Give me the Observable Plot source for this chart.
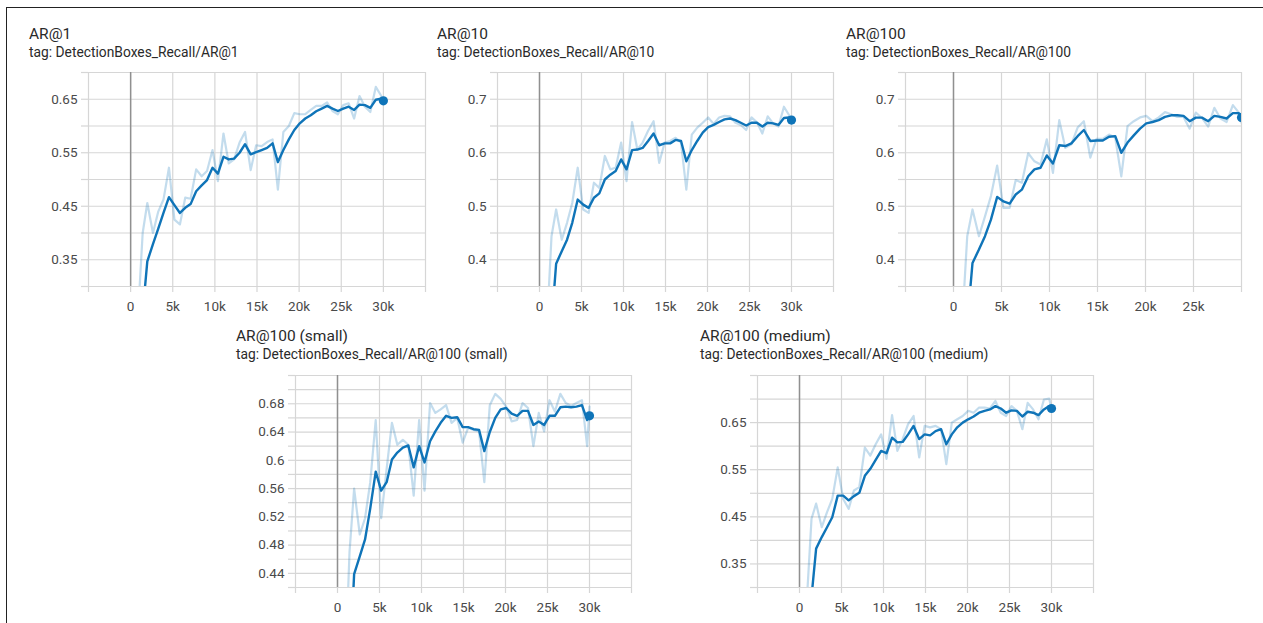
<!DOCTYPE html>
<html><head><meta charset="utf-8">
<script src="https://cdn.jsdelivr.net/npm/d3@7"></script>
<script src="https://cdn.jsdelivr.net/npm/@observablehq/plot@0.6"></script>
<style>
html,body{margin:0;padding:0;background:#fff;}
#page{position:relative;width:1263px;height:623px;overflow:hidden;font-family:Roboto,sans-serif;}
#frame{position:absolute;left:6px;top:6.5px;width:1256px;height:640px;border-top:1.6px solid #222;border-left:1.6px solid #222;}
.ptitle{position:absolute;font-size:15.5px;font-weight:400;color:#2a2a2a;white-space:nowrap;line-height:1;}
.psub{position:absolute;font-size:13.8px;font-weight:400;color:#2a2a2a;white-space:nowrap;line-height:1;}
.chart{position:absolute;}
</style></head>
<body><div id="page"><div id="frame"></div></div>
<script>
// ---- data ----
const steps = [0, 1430, 1980, 2650, 3280, 3900, 4550, 5200, 5850, 6480, 7120, 7780, 8430, 9070, 9720, 10360, 11020, 11650, 12280, 12930, 13580, 14250, 14900, 15550, 16200, 16850, 17480, 18130, 18780, 19430, 20080, 20730, 21380, 22030, 22680, 23320, 23960, 24600, 25240, 25880, 26530, 27170, 27810, 28450, 29100, 29720, 30000];

const ar1Raw = [0, 0.40, 0.456, 0.40, 0.44, 0.4625, 0.522, 0.425, 0.416, 0.466, 0.464, 0.519, 0.506, 0.516, 0.555, 0.497, 0.586, 0.53, 0.5375, 0.569, 0.589, 0.5175, 0.564, 0.5625, 0.57, 0.575, 0.481, 0.589, 0.60, 0.624, 0.622, 0.622, 0.63, 0.6375, 0.6375, 0.644, 0.628, 0.622, 0.639, 0.6425, 0.614, 0.656, 0.636, 0.626, 0.673, 0.657, 0.645];
const ar1Smooth = [0, 0.25, 0.347, 0.379, 0.408, 0.4375, 0.467, 0.452, 0.4375, 0.447, 0.454, 0.478, 0.489, 0.499, 0.522, 0.511, 0.5425, 0.5375, 0.539, 0.55, 0.566, 0.547, 0.551, 0.555, 0.559, 0.5675, 0.5325, 0.555, 0.575, 0.5925, 0.605, 0.614, 0.62, 0.6275, 0.6325, 0.6375, 0.6325, 0.628, 0.6325, 0.636, 0.63, 0.64, 0.639, 0.634, 0.649, 0.651, 0.647];

const ar10Raw = [0, 0.444, 0.494, 0.4375, 0.469, 0.506, 0.572, 0.494, 0.4875, 0.544, 0.534, 0.594, 0.569, 0.572, 0.619, 0.547, 0.6575, 0.606, 0.619, 0.641, 0.659, 0.581, 0.619, 0.622, 0.628, 0.619, 0.531, 0.634, 0.647, 0.656, 0.666, 0.654, 0.666, 0.669, 0.668, 0.656, 0.652, 0.6425, 0.666, 0.657, 0.636, 0.668, 0.655, 0.649, 0.686, 0.67, 0.658];
const ar10Smooth = [0, 0.28, 0.3925, 0.416, 0.4375, 0.469, 0.5125, 0.503, 0.497, 0.516, 0.524, 0.55, 0.559, 0.566, 0.5875, 0.569, 0.605, 0.606, 0.609, 0.622, 0.636, 0.614, 0.6175, 0.6175, 0.624, 0.622, 0.584, 0.605, 0.622, 0.6375, 0.648, 0.652, 0.6575, 0.6625, 0.664, 0.661, 0.656, 0.651, 0.656, 0.656, 0.649, 0.656, 0.655, 0.652, 0.665, 0.666, 0.661];

const ar100Raw = [0, 0.444, 0.494, 0.444, 0.481, 0.519, 0.576, 0.497, 0.497, 0.549, 0.544, 0.599, 0.584, 0.578, 0.625, 0.5625, 0.661, 0.609, 0.616, 0.647, 0.659, 0.591, 0.626, 0.626, 0.634, 0.628, 0.556, 0.65, 0.659, 0.666, 0.669, 0.659, 0.666, 0.676, 0.672, 0.667, 0.667, 0.645, 0.675, 0.665, 0.649, 0.684, 0.664, 0.6575, 0.689, 0.675, 0.656];
const ar100Smooth = [0, 0.28, 0.394, 0.419, 0.444, 0.475, 0.5175, 0.509, 0.505, 0.522, 0.531, 0.556, 0.569, 0.572, 0.595, 0.58, 0.614, 0.6125, 0.6175, 0.631, 0.6425, 0.622, 0.623, 0.623, 0.63, 0.631, 0.60, 0.619, 0.6325, 0.645, 0.655, 0.6575, 0.661, 0.667, 0.67, 0.67, 0.669, 0.659, 0.6656, 0.6656, 0.659, 0.669, 0.667, 0.664, 0.674, 0.674, 0.666];

const arSmallRaw = [0, 0.47, 0.56, 0.495, 0.518, 0.569, 0.657, 0.518, 0.588, 0.653, 0.622, 0.629, 0.622, 0.55, 0.657, 0.557, 0.681, 0.667, 0.672, 0.678, 0.653, 0.66, 0.625, 0.646, 0.643, 0.641, 0.569, 0.678, 0.694, 0.687, 0.676, 0.655, 0.657, 0.681, 0.674, 0.62, 0.667, 0.641, 0.685, 0.669, 0.694, 0.681, 0.677, 0.681, 0.685, 0.62, 0.676];
const arSmallSmooth = [0, 0.30, 0.439, 0.464, 0.488, 0.532, 0.584, 0.557, 0.569, 0.601, 0.611, 0.618, 0.621, 0.59, 0.62, 0.597, 0.627, 0.641, 0.653, 0.663, 0.66, 0.661, 0.647, 0.647, 0.644, 0.643, 0.613, 0.64, 0.66, 0.672, 0.674, 0.666, 0.663, 0.67, 0.67, 0.65, 0.655, 0.65, 0.663, 0.663, 0.675, 0.676, 0.675, 0.676, 0.678, 0.657, 0.663];

const arMedRaw = [0, 0.446, 0.478, 0.428, 0.46, 0.488, 0.555, 0.488, 0.467, 0.506, 0.513, 0.597, 0.58, 0.604, 0.625, 0.573, 0.666, 0.59, 0.615, 0.647, 0.664, 0.576, 0.643, 0.64, 0.643, 0.636, 0.562, 0.65, 0.657, 0.664, 0.675, 0.671, 0.682, 0.682, 0.68, 0.696, 0.671, 0.664, 0.685, 0.675, 0.636, 0.692, 0.678, 0.657, 0.699, 0.701, 0.68];
const arMedSmooth = [0, 0.28, 0.3825, 0.407, 0.428, 0.449, 0.495, 0.495, 0.485, 0.494, 0.501, 0.537, 0.552, 0.571, 0.59, 0.585, 0.618, 0.608, 0.609, 0.625, 0.643, 0.615, 0.625, 0.623, 0.632, 0.636, 0.604, 0.625, 0.64, 0.65, 0.657, 0.663, 0.671, 0.675, 0.678, 0.685, 0.68, 0.671, 0.676, 0.675, 0.663, 0.673, 0.671, 0.666, 0.678, 0.685, 0.68];

// ticks
const xTicks = [-5000, 0, 5000, 10000, 15000, 20000, 25000, 30000, 35000];
const xTickLabels = ["", "0", "5k", "10k", "15k", "20k", "25k", "30k", ""];
const yGridA = [0.30, 0.35, 0.40, 0.45, 0.50, 0.55, 0.60, 0.65, 0.70];
const yLabelsA = [0.35, 0.45, 0.55, 0.65];
const yGridB = [0.35, 0.40, 0.45, 0.50, 0.55, 0.60, 0.65, 0.70, 0.75];
const yLabelsB = [0.4, 0.5, 0.6, 0.7];
const yGridC = [0.42, 0.44, 0.46, 0.48, 0.50, 0.52, 0.54, 0.56, 0.58, 0.60, 0.62, 0.64, 0.66, 0.68, 0.70, 0.72];
const yLabelsC = [0.44, 0.48, 0.52, 0.56, 0.6, 0.64, 0.68];
const yGridD = [0.30, 0.35, 0.40, 0.45, 0.50, 0.55, 0.60, 0.65, 0.70, 0.75];
const yLabelsD = [0.35, 0.45, 0.55, 0.65];

const titles = ["AR@1", "AR@10", "AR@100", "AR@100 (small)", "AR@100 (medium)"];
const tags = ["tag: DetectionBoxes_Recall/AR@1", "tag: DetectionBoxes_Recall/AR@10", "tag: DetectionBoxes_Recall/AR@100", "tag: DetectionBoxes_Recall/AR@100 (small)", "tag: DetectionBoxes_Recall/AR@100 (medium)"];

// ---- layout ----
const panels = [
  {raw: ar1Raw, smooth: ar1Smooth, grid: yGridA, labels: yLabelsA, xdom: [-5000, 35000], left: 88, top: 72, w: 337, h: 214, tx: 29, ty: 26.5},
  {raw: ar10Raw, smooth: ar10Smooth, grid: yGridB, labels: yLabelsB, xdom: [-5000, 35000], left: 497, top: 72, w: 336, h: 214, tx: 437, ty: 26.5},
  {raw: ar100Raw, smooth: ar100Smooth, grid: yGridB, labels: yLabelsB, xdom: [-5000, 30000], left: 905, top: 72, w: 336, h: 214, tx: 846, ty: 26.5},
  {raw: arSmallRaw, smooth: arSmallSmooth, grid: yGridC, labels: yLabelsC, xdom: [-5000, 35000], left: 295, top: 375, w: 336, h: 212, tx: 236, ty: 329},
  {raw: arMedRaw, smooth: arMedSmooth, grid: yGridD, labels: yLabelsD, xdom: [-5000, 35000], left: 757, top: 375, w: 336, h: 212, tx: 700, ty: 329}
];

const ML = 60, MR = 12, MT = 10, MB = 34;
const page = document.getElementById("page");
const BLUE = "#0f74b8";
const GRID = "#d6d6d6";

panels.forEach((p, k) => {
  const t = document.createElement("div");
  t.className = "ptitle"; t.textContent = titles[k];
  t.style.left = p.tx + "px"; t.style.top = p.ty + "px";
  page.appendChild(t);
  const s = document.createElement("div");
  s.className = "psub"; s.textContent = tags[k];
  s.style.left = p.tx + "px"; s.style.top = (p.ty + 19) + "px";
  page.appendChild(s);

  const data = steps.map((st, i) => ({step: st, raw: p.raw[i], smooth: p.smooth[i]}));
  const xt = xTicks.filter(d => d >= p.xdom[0] && d <= p.xdom[1]);
  const fmtX = d => (d === p.xdom[0] || d === p.xdom[1]) ? "" : xTickLabels[xTicks.indexOf(d)];
  const fmtY = d => p.labels.includes(d) ? String(d) : "";

  const chart = Plot.plot({
    width: p.w + ML + MR,
    height: p.h + MT + MB,
    marginLeft: ML, marginRight: MR, marginTop: MT, marginBottom: MB,
    x: {domain: p.xdom, axis: null},
    y: {domain: [p.grid[0], p.grid[p.grid.length - 1]], axis: null},
    style: {fontFamily: "Roboto, sans-serif", fontSize: "13.5px", color: "#4a4a4a", background: "transparent", overflow: "visible"},
    marks: [
      Plot.gridX(xt, {stroke: GRID, strokeOpacity: 1, strokeWidth: 1.2}),
      Plot.gridY(p.grid, {stroke: GRID, strokeOpacity: 1, strokeWidth: 1.2}),
      Plot.axisX(xt, {tickSize: 6, tickPadding: 9, stroke: GRID, strokeWidth: 1.2, tickFormat: fmtX, label: null}),
      Plot.axisY(p.grid, {tickSize: 7, tickPadding: 4, stroke: GRID, strokeWidth: 1.2, tickFormat: fmtY, label: null}),
      Plot.ruleX([0], {stroke: "#909090", strokeWidth: 1.5}),
      Plot.line(data, {x: "step", y: "raw", stroke: BLUE, strokeOpacity: 0.25, strokeWidth: 2.2, clip: true}),
      Plot.line(data, {x: "step", y: "smooth", stroke: BLUE, strokeWidth: 2.4, clip: true}),
      Plot.dot(data.slice(-1), {x: "step", y: "smooth", r: 4.6, fill: BLUE, clip: true})
    ]
  });
  chart.classList.add("chart");
  chart.style.left = (p.left - ML) + "px";
  chart.style.top = (p.top - MT) + "px";
  page.appendChild(chart);
});
</script></body></html>
